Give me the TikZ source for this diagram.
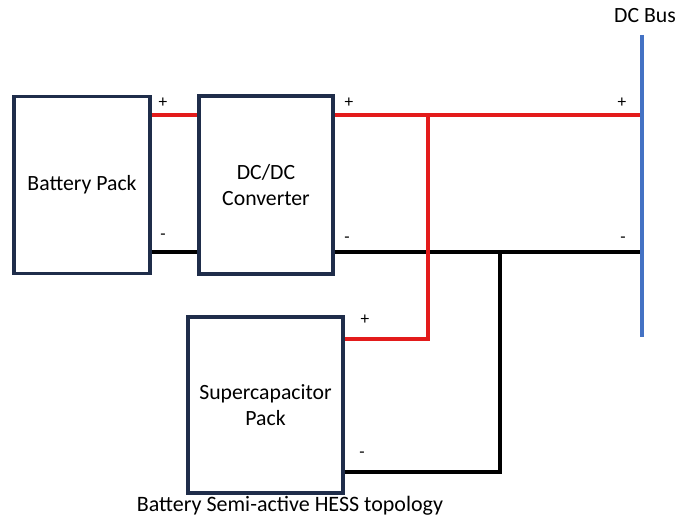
\documentclass[tikz,border=0pt]{standalone}
\usepackage{fontspec}
\setmainfont{Carlito}
\definecolor{boxline}{HTML}{1F2D4A}
\definecolor{posred}{HTML}{E31B1B}
\definecolor{busblue}{HTML}{4472C4}
\tikzset{
  unit/.style={draw=boxline,line width=2.3pt,fill=white,align=center,font=\fontsize{16.3}{19.5}\selectfont,inner sep=0pt},
  poswire/.style={posred,line width=2.3pt},
  negwire/.style={black,line width=2.3pt},
  pol/.style={font=\fontsize{13}{15}\selectfont,inner sep=0pt}
}
\begin{document}
\begin{tikzpicture}[x=0.75pt,y=-0.75pt]
  \useasboundingbox (0,0) rectangle (677,517);
  % rails and junctions
  \coordinate (pos) at (0,115);
  \coordinate (neg) at (0,252);
  \coordinate (jp) at (428,115);
  \coordinate (jn) at (500,252);
  \coordinate (scp) at (0,339);
  \coordinate (scn) at (0,472);
  % blocks
  \node[unit,minimum width=136*0.75pt,minimum height=177*0.75pt] (bat) at (82,185) {Battery Pack};
  \node[unit,minimum width=134*0.75pt,minimum height=178*0.75pt] (conv) at (266,185) {DC/DC\\Converter};
  \node[unit,minimum width=155*0.75pt,minimum height=176*0.75pt] (sc) at (265.5,405) {Supercapacitor\\Pack};
  % dc bus
  \coordinate (bustop) at (642,35);
  \coordinate (busbot) at (642,337);
  \node[font=\fontsize{16.3}{19.5}\selectfont,anchor=south] (buslbl) at (645,27) {DC Bus};
  % wires
  \draw[poswire] (bat.east |- pos) -- (conv.west |- pos);
  \draw[negwire] (bat.east |- neg) -- (conv.west |- neg);
  \draw[poswire] (conv.east |- pos) -- (bustop |- pos);
  \draw[negwire] (conv.east |- neg) -- (bustop |- neg);
  \draw[poswire] (sc.east |- scp) -| (jp);
  \draw[negwire] (sc.east |- scn) -| (jn);
  \draw[busblue,line width=2.3pt] (bustop) -- (busbot);
  % polarity marks
  \node[pol] (p1) at (163,103) {+};
  \node[pol] (n1) at (163,237) {-};
  \node[pol] (p2) at (349,103) {+};
  \node[pol] (n2) at (347,240) {-};
  \node[pol] (p3) at (622,103) {+};
  \node[pol] (n3) at (623,240) {-};
  \node[pol] (p4) at (365,320) {+};
  \node[pol] (n4) at (362,455) {-};
  % caption
  \node[font=\fontsize{16.5}{19.5}\selectfont] (cap) at (290,506) {Battery Semi-active HESS topology};
\end{tikzpicture}
\end{document}
